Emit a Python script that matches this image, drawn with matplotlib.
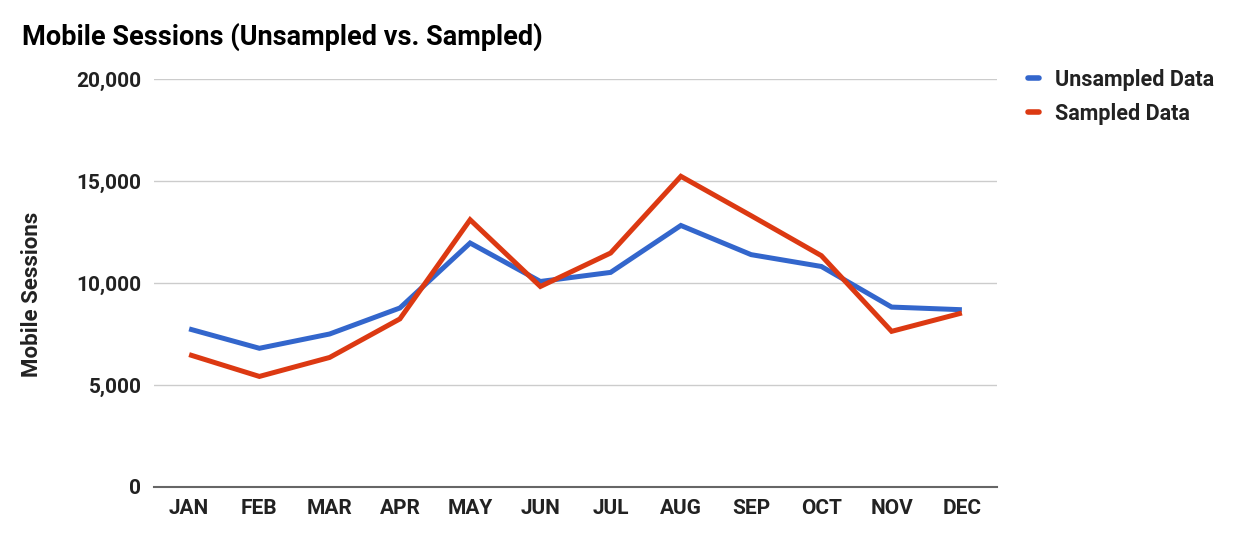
import matplotlib
matplotlib.use("Agg")
import matplotlib.pyplot as plt
from matplotlib.ticker import FuncFormatter

plt.rcParams['font.family'] = ['Roboto', 'DejaVu Sans']

months = ["JAN", "FEB", "MAR", "APR", "MAY", "JUN",
          "JUL", "AUG", "SEP", "OCT", "NOV", "DEC"]
unsampled = [7750, 6800, 7500, 8775, 11960, 10075,
             10520, 12820, 11390, 10810, 8820, 8690]
sampled = [6490, 5420, 6350, 8240, 13100, 9830,
           11470, 15230, 13300, 11340, 7630, 8530]
yticks = [0, 5000, 10000, 15000, 20000]

text_col = "#222222"

fig = plt.figure(figsize=(12.35, 5.43), dpi=100)
# plot area: x 154..997 px, y 79..487 px
ax = fig.add_axes([154 / 1235, 1 - 487 / 543, 843 / 1235, 408 / 543])

x = list(range(len(months)))
ax.plot(x, unsampled, color="#3366CC", lw=3.6, solid_joinstyle="miter",
        solid_capstyle="butt", label="Unsampled Data", zorder=3)
ax.plot(x, sampled, color="#DC3912", lw=3.6, solid_joinstyle="miter",
        solid_capstyle="butt", label="Sampled Data", zorder=4)

ax.set_xlim(-0.5, 11.5)
ax.set_ylim(0, 20000)
ax.set_yticks(yticks)
ax.yaxis.set_major_formatter(FuncFormatter(lambda v, p: f"{int(v):,}"))
ax.set_xticks(x)
ax.set_xticklabels(months)

ax.grid(axis="y", color="#cccccc", lw=1)
ax.set_axisbelow(True)
for s in ["top", "right", "left"]:
    ax.spines[s].set_visible(False)
ax.spines["bottom"].set_color("#666666")
ax.spines["bottom"].set_linewidth(1.5)
ax.tick_params(length=0, labelsize=15, colors=text_col)
for lbl in ax.get_xticklabels() + ax.get_yticklabels():
    lbl.set_fontweight("bold")
ax.tick_params(axis="y", pad=9)
ax.tick_params(axis="x", pad=9)

fig.text(32 / 1235, 1 - 294 / 543, "Mobile Sessions", rotation=90,
         fontsize=16, color=text_col, fontweight="bold",
         ha="center", va="center")

fig.text(22 / 1235, 1 - 37 / 543, "Mobile Sessions (Unsampled vs. Sampled)",
         fontsize=19.5, fontweight="bold", color="#000000", va="center")

leg = fig.legend(loc="upper left", bbox_to_anchor=(0.817, 0.909),
                 frameon=False, handlelength=0.5, handletextpad=0.75,
                 labelspacing=0.55, prop={"size": 15.5, "weight": "bold"})
for t in leg.get_texts():
    t.set_color(text_col)
for h in leg.get_lines():
    h.set_solid_capstyle("round")
    h.set_linewidth(4)

fig.savefig("out.png", dpi=100)
